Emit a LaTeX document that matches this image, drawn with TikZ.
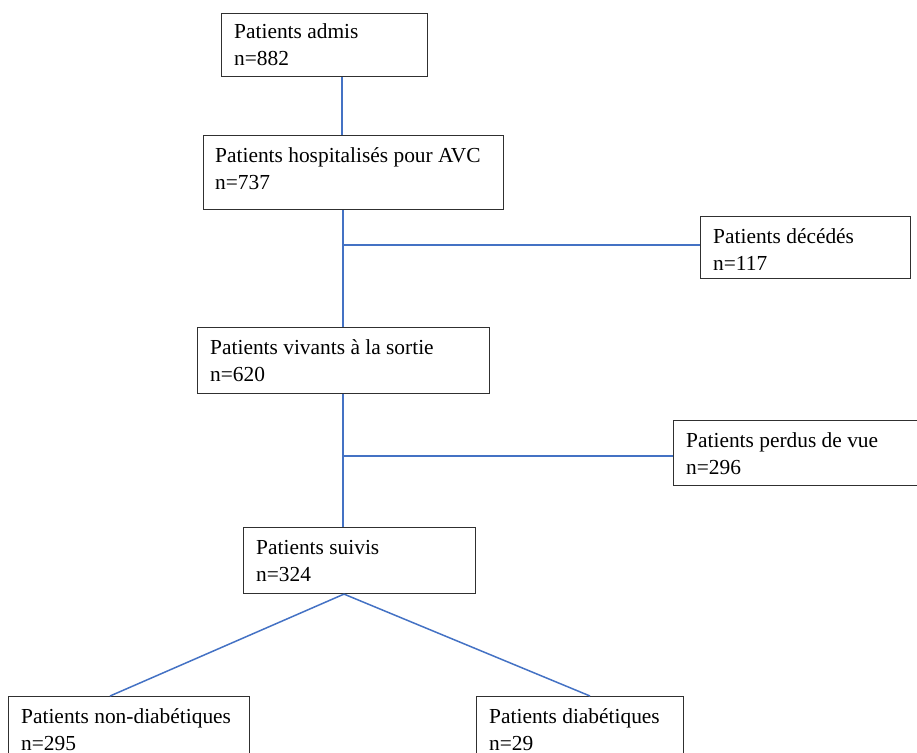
\documentclass[tikz,border=0pt]{standalone}
\usepackage{fontspec}
\setmainfont{Liberation Serif}
\definecolor{linkblue}{HTML}{4472C4}
\definecolor{boxline}{HTML}{303030}
\begin{document}
\begin{tikzpicture}[x=1pt,y=1pt,
  box/.style={draw=boxline, line width=1.1pt, anchor=north west, inner sep=0pt, fill=white},
  txt/.style={anchor=base west, align=left, inner sep=0pt, font=\fontsize{21.4}{27}\selectfont},
  link/.style={draw=linkblue, line width=1.5pt}]
\useasboundingbox (0,0) rectangle (917,-752);
\clip (0,0) rectangle (917,-752);
% boxes
\node[box, minimum width=206pt, minimum height=63pt] (b1) at (221,-13) {};
\node[box, minimum width=300pt, minimum height=74pt] (b2) at (203,-135) {};
\node[box, minimum width=210pt, minimum height=62pt] (bd) at (700,-216) {};
\node[box, minimum width=292pt, minimum height=66pt] (b3) at (197,-327) {};
\node[box, minimum width=257pt, minimum height=65pt] (bp) at (673,-420) {};
\node[box, minimum width=232pt, minimum height=66pt] (b5) at (243,-527) {};
\node[box, minimum width=241pt, minimum height=74pt] (b6) at (8,-696) {};
\node[box, minimum width=207pt, minimum height=74pt] (b7) at (476,-696) {};
% texts (anchor = baseline of the last line)
\node[txt] (t1) at ([xshift=13pt,yshift=-53pt]b1.north west) {Patients admis\\n=882};
\node[txt] (t2) at ([xshift=12pt,yshift=-54pt]b2.north west) {Patients hospitalisés pour AVC\\n=737};
\node[txt] (td) at ([xshift=13pt,yshift=-54pt]bd.north west) {Patients décédés\\n=117};
\node[txt] (t3) at ([xshift=13pt,yshift=-54pt]b3.north west) {Patients vivants à la sortie\\n=620};
\node[txt] (tp) at ([xshift=13pt,yshift=-54pt]bp.north west) {Patients perdus de vue\\n=296};
\node[txt] (t5) at ([xshift=13pt,yshift=-54pt]b5.north west) {Patients suivis\\n=324};
\node[txt] (t6) at ([xshift=13pt,yshift=-54pt]b6.north west) {Patients non-diabétiques\\n=295};
\node[txt] (t7) at ([xshift=13pt,yshift=-54pt]b7.north west) {Patients diabétiques\\n=29};
% trunk coordinates
\coordinate (ta) at (342,0);
\coordinate (tb) at (343,0);
\coordinate (tc) at (344,0);
\coordinate (jd) at (343,-245);
\coordinate (jp) at (343,-456);
\coordinate (l6) at (110,0);
\coordinate (l7) at (590,0);
% connectors
\draw[link] (b1.south -| ta) -- (b2.north -| ta);
\draw[link] (b2.south -| tb) -- (b3.north -| tb);
\draw[link] (jd) -- (jd -| bd.west);
\draw[link] (b3.south -| tb) -- (b5.north -| tb);
\draw[link] (jp) -- (jp -| bp.west);
\draw[link] (b5.south -| tc) -- (b6.north -| l6);
\draw[link] (b5.south -| tc) -- (b7.north -| l7);
\end{tikzpicture}
\end{document}
